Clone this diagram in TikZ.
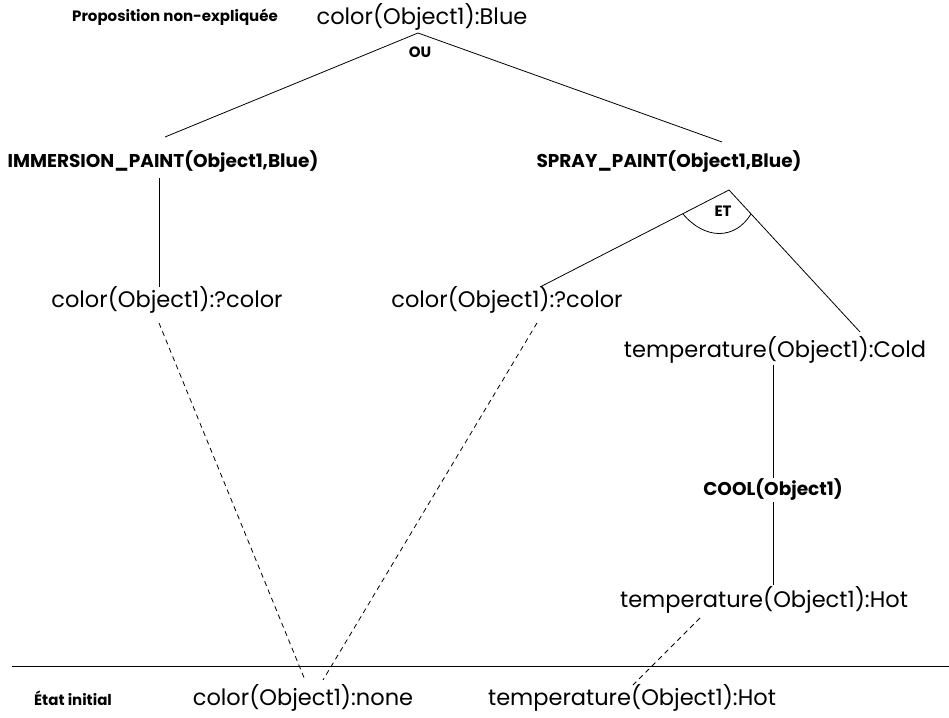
\documentclass[tikz,border=0pt]{standalone}
\usepackage{fontspec}
\setmainfont{Poppins}
\usetikzlibrary{positioning,calc}

\begin{document}
\begin{tikzpicture}[
  x=1pt, y=-1pt,
  every node/.style={inner sep=1pt},
  prop/.style={font=\fontsize{22.5}{26}\selectfont},
  action/.style={font=\bfseries\fontsize{18.5}{22}\selectfont},
  tag/.style={font=\bfseries\fontsize{15}{18}\selectfont},
  link/.style={line width=0.8pt},
  trace/.style={line width=0.8pt, dash pattern=on 5pt off 4pt}
]
  \useasboundingbox (0,0) rectangle (949,717);

  % goal and the two plans
  \node[tag] (goallbl) at (175,17) {Proposition non-expliquée};
  \node[prop] (goal) at (422,17) {color(Object1):Blue};
  \node[tag] (ou) at (420,52) {OU};
  \node[action] (immersion) at (163,162) {IMMERSION\_PAINT(Object1,Blue)};
  \node[action] (spray) at (669,162) {SPRAY\_PAINT(Object1,Blue)};

  % preconditions
  \node[prop] (colorA) at (167,300) {color(Object1):?color};
  \node[prop] (colorB) at (507,300) {color(Object1):?color};
  \node[prop] (cold) at (775,350) {temperature(Object1):Cold};
  \node[action] (cool) at (773,490) {COOL(Object1)};
  \node[prop] (hot) at (764,600) {temperature(Object1):Hot};

  % initial state
  \node[tag] (initlbl) at (73,698) {État initial};
  \node[prop] (none) at (303,698) {color(Object1):none};
  \node[prop] (hotinit) at (632,698) {temperature(Object1):Hot};

  \coordinate (ouapex) at (418,33);
  \coordinate (etapex) at (729,190);

  \draw[link] ($(immersion)+(2,-25)$) -- (ouapex) -- ($(spray)+(53,-20)$);
  \draw[link] ($(colorB)+(33,-13)$) -- (etapex) -- ($(cold)+(85,-18)$);
  \draw[link] (683,214) .. controls (705,240) and (735,240) .. (751,214);
  \node[tag] (et) at (723,211) {ET};

  \draw[link] ($(immersion)+(-4,16)$) -- ($(colorA)+(-8,-13)$);
  \draw[link] (cool.north |- cold.south) -- (cool.north);
  \draw[link] (cool.south) -- (cool.south |- hot.north);

  \draw[link] (12,666) -- (949,666);

  \draw[trace] ($(colorA)+(-8,23)$) -- ($(none)+(2,-18)$);
  \draw[trace] ($(colorB)+(30,23)$) -- ($(none)+(20,-18)$);
  \draw[trace] ($(hot)+(-64,18)$) -- ($(hotinit)+(-2,-10)$);
\end{tikzpicture}
\end{document}
